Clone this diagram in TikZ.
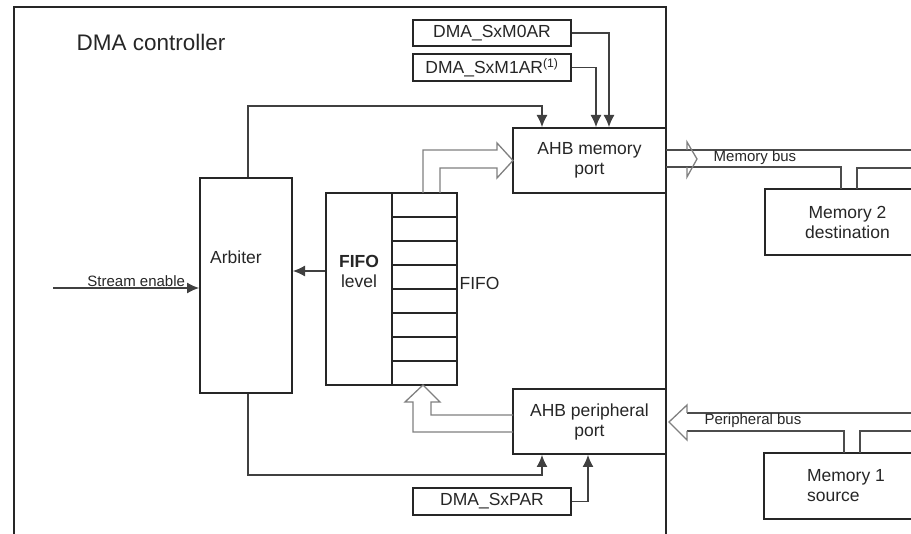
\documentclass[tikz,border=0pt]{standalone}
\usepackage{fontspec}
\setmainfont{Liberation Sans}
\usetikzlibrary{arrows.meta,positioning,calc}

\tikzset{
  box/.style={draw=black!85,line width=2pt,rectangle,inner sep=0pt},
  sig/.style={draw=black!75,line width=1.1pt},
  sigarr/.style={sig,-{Latex[length=12pt,width=11pt]}},
  hollow/.style={draw=black!50,line width=1.3pt,line join=miter},
  bus/.style={draw=black!70,line width=1.1pt},
  lbl/.style={font=\fontsize{17.5}{20}\selectfont,text=black!85,align=center},
  sml/.style={font=\fontsize{15}{17}\selectfont,text=black!85,inner sep=1pt},
}

\begin{document}
\begin{tikzpicture}[x=1pt,y=-1pt]
\useasboundingbox (0,0) rectangle (911,534);
\draw[black!85,line width=2.8pt] (14,534) -- (14,7) -- (666,7) -- (666,534);
\node[lbl,font=\fontsize{22.5}{24}\selectfont] (title) at (151,42) {DMA controller};

% blocks
\node[box,minimum width=92pt,minimum height=215pt] (arb) at (246,285.5) {};
\node[lbl] (arblbl) at (236,257) {Arbiter};
\node[box,lbl,minimum width=153pt,minimum height=65pt] (memport) at (589.5,160.5) {AHB memory\\port};
\node[box,lbl,minimum width=153pt,minimum height=65pt] (perport) at (589.5,421.5) {AHB peripheral\\port};
\node[box,lbl,minimum width=158pt,minimum height=26pt] (m0ar) at (492,33) {DMA\_SxM0AR};
\node[box,lbl,minimum width=158pt,minimum height=27pt] (m1ar) at (492,67.5) {DMA\_SxM1AR\textsuperscript{(1)}};
\node[box,lbl,minimum width=158pt,minimum height=27pt] (par) at (492,501.5) {DMA\_SxPAR};
\node[box,lbl,minimum width=165pt,minimum height=66pt] (mem2) at (847.5,222) {Memory 2\\destination};
\node[box,lbl,align=left,minimum width=165pt,minimum height=66pt] (mem1) at (846,486) {Memory 1\\source};

% FIFO
\node[box,minimum width=131pt,minimum height=192pt] (fifo) at (391.5,289) {};
\draw[box] (392,193) -- (392,385);
\foreach \k in {2,3,5,6} {\draw[black!85,line width=1.2pt] (392,193+24*\k) -- (457,193+24*\k);}
\foreach \k in {1,4,7} {\draw[black!85,line width=2.4pt] (392,193+24*\k) -- (457,193+24*\k);}
\node[lbl] (fifolvl) at (359,271) {\textbf{FIFO}\\level};
\node[lbl] (fifolbl) at (479.5,283) {FIFO};

% control signals
\coordinate (se) at (53,288);
\draw[sigarr] (se) -- node[sml,pos=0.57,above] (selbl) {Stream enable} (se -| arb.west);
\draw[sigarr] (fifolvl.center -| fifo.west) -- (fifolvl.center -| arb.east);
\draw[sigarr] ([xshift=2pt]arb.north) -- ++(0,-71) -| ([xshift=30pt]memport.north west);
\draw[sigarr] ([xshift=2pt]arb.south) -- ++(0,81) -| ([xshift=30pt]perport.south west);
\draw[sigarr] (m0ar.east) -| ([xshift=97pt]memport.north west);
\draw[sigarr] (m1ar.east) -| ([xshift=84pt]memport.north west);
\draw[sigarr] (par.east) -| ([xshift=76pt]perport.south west);

% data paths
\draw[hollow] (423,193) -- (423,150) -- (497,150) -- (497,143) -- (513,160.5) -- (497,178) -- (497,168) -- (440,168) -- (440,193);
\draw[hollow] (513,415) -- (431,415) -- (431,402) -- (440,402) -- (423,385) -- (405,402) -- (413,402) -- (413,432) -- (513,432);

% memory bus
\draw[bus] (666,150) -- (911,150);
\draw[bus] (666,167) -- (841,167) -- (841,189);
\draw[bus] (857,189) -- (857,168) -- (911,168);
\draw[hollow] (687,150) -- (687,142) -- (697,159) -- (687,177) -- (687,167);
\node[sml] (mbus) at (755,158) {Memory bus};

% peripheral bus
\draw[bus] (687,413) -- (911,413);
\draw[bus] (687,431) -- (844,431) -- (844,453);
\draw[bus] (860,453) -- (860,431) -- (911,431);
\draw[hollow] (687,413) -- (687,405) -- (669,422) -- (687,440) -- (687,431);
\node[sml] (pbus) at (753,421) {Peripheral bus};
\end{tikzpicture}
\end{document}
